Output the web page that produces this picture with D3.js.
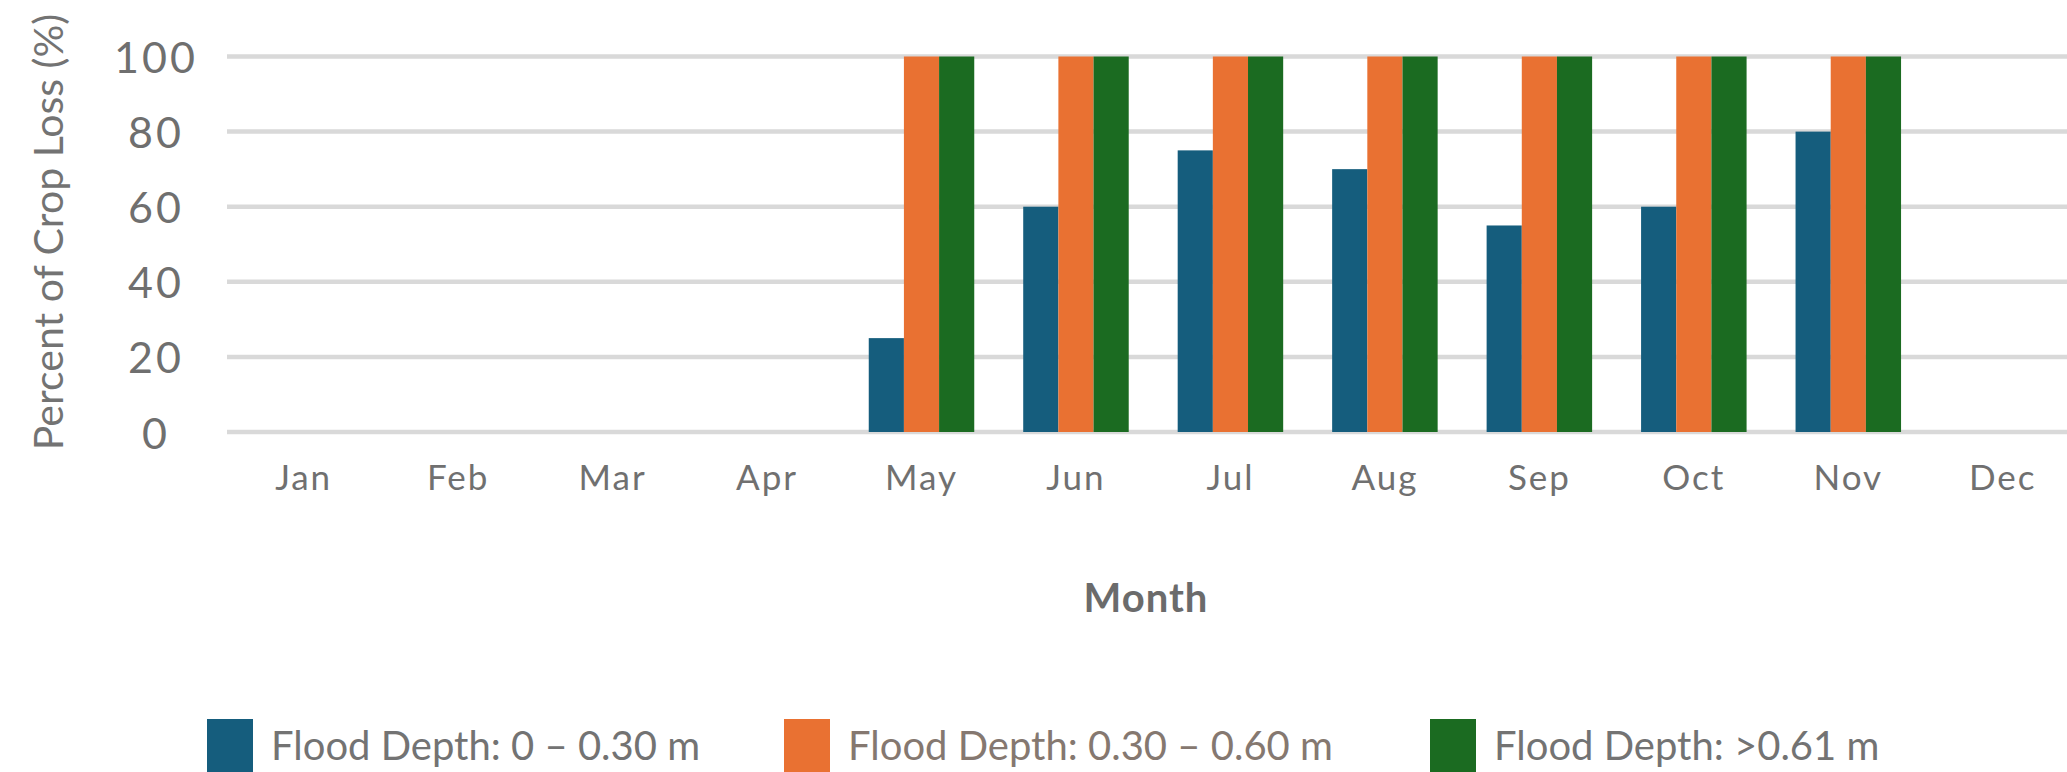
<!DOCTYPE html>
<html>
<head>
<meta charset="utf-8">
<script src="https://cdn.jsdelivr.net/npm/d3@7"></script>
<style>
  html, body { margin: 0; padding: 0; background: #fff; }
  svg { display: block; font-family: Lato, "Open Sans", sans-serif; }
</style>
</head>
<body>
<svg id="chart" width="2067" height="772"></svg>
<script>
// Monthly crop loss by flood depth
const months = ["Jan", "Feb", "Mar", "Apr", "May", "Jun", "Jul", "Aug", "Sep", "Oct", "Nov", "Dec"];
const seriesNames = ["Flood Depth: 0 – 0.30 m", "Flood Depth: 0.30 – 0.60 m", "Flood Depth: >0.61 m"];
const shallow = [null, null, null, null, 25, 60, 75, 70, 55, 60, 80, null];
const medium  = [null, null, null, null, 100, 100, 100, 100, 100, 100, 100, null];
const deep    = [null, null, null, null, 100, 100, 100, 100, 100, 100, 100, null];
const yTicks = [0, 20, 40, 60, 80, 100];

const colors = ["#155d7d", "#e97132", "#1b6b21"];
const legendText = ["#737373", "#857870", "#737373"];

const svg = d3.select("#chart");
const W = 2067;

const x = d3.scaleBand().domain(months).range([226.4, 2080]).paddingInner(0.317).paddingOuter(0.1585);
const xs = d3.scaleBand().domain(d3.range(3)).range([0, x.bandwidth()]).padding(0);
const y = d3.scaleLinear().domain([0, 100]).range([432, 56.5]);

// horizontal gridlines
svg.append("g").selectAll("line").data(yTicks).join("line")
  .attr("x1", 227).attr("x2", W)
  .attr("y1", d => y(d)).attr("y2", d => y(d))
  .attr("stroke", "#d9d9d9").attr("stroke-width", 4.5);

// y tick labels
svg.append("g").selectAll("text").data(yTicks).join("text")
  .attr("x", 156).attr("y", d => y(d))
  .attr("text-anchor", "middle").attr("dominant-baseline", "central")
  .attr("font-size", 43).attr("letter-spacing", 3).attr("fill", "#6f6f6f")
  .text(d => d);

// y axis title
svg.append("text")
  .attr("transform", "translate(63,232) rotate(-90)")
  .attr("text-anchor", "middle")
  .attr("font-size", 41).attr("fill", "#737373")
  .text("Percent of Crop Loss (%)");

// bars
const series = [shallow, medium, deep];
series.forEach((vals, si) => {
  svg.append("g").selectAll("rect")
    .data(months.map((m, i) => ({ m, v: vals[i] })).filter(d => d.v != null))
    .join("rect")
    .attr("x", d => x(d.m) + xs(si))
    .attr("width", xs.bandwidth())
    .attr("y", d => y(d.v))
    .attr("height", d => y(0) - y(d.v))
    .attr("fill", colors[si]);
});

// x axis month labels
const xAxis = svg.append("g").attr("transform", "translate(0,490)")
  .call(d3.axisBottom(x).tickSize(0).tickPadding(0));
xAxis.select(".domain").remove();
xAxis.selectAll("text")
  .attr("dy", 0).attr("y", 0)
  .attr("font-size", 35).attr("letter-spacing", 2).attr("fill", "#707070")
  .attr("font-family", "Lato, 'Open Sans', sans-serif");

// x axis title
svg.append("text")
  .attr("x", 1146).attr("y", 612)
  .attr("text-anchor", "middle")
  .attr("font-size", 40).attr("font-weight", "bold").attr("letter-spacing", 1).attr("fill", "#6b6b6b")
  .text("Month");

// legend
const legendX = [207, 784, 1430];
const lg = svg.append("g").selectAll("g").data(seriesNames).join("g")
  .attr("transform", (d, i) => `translate(${legendX[i]},719)`);
lg.append("rect").attr("width", 46).attr("height", 56).attr("fill", (d, i) => colors[i]);
lg.append("text").attr("x", 64).attr("y", 41)
  .attr("font-size", 40).attr("fill", (d, i) => legendText[i])
  .text(d => d);
</script>
</body>
</html>
